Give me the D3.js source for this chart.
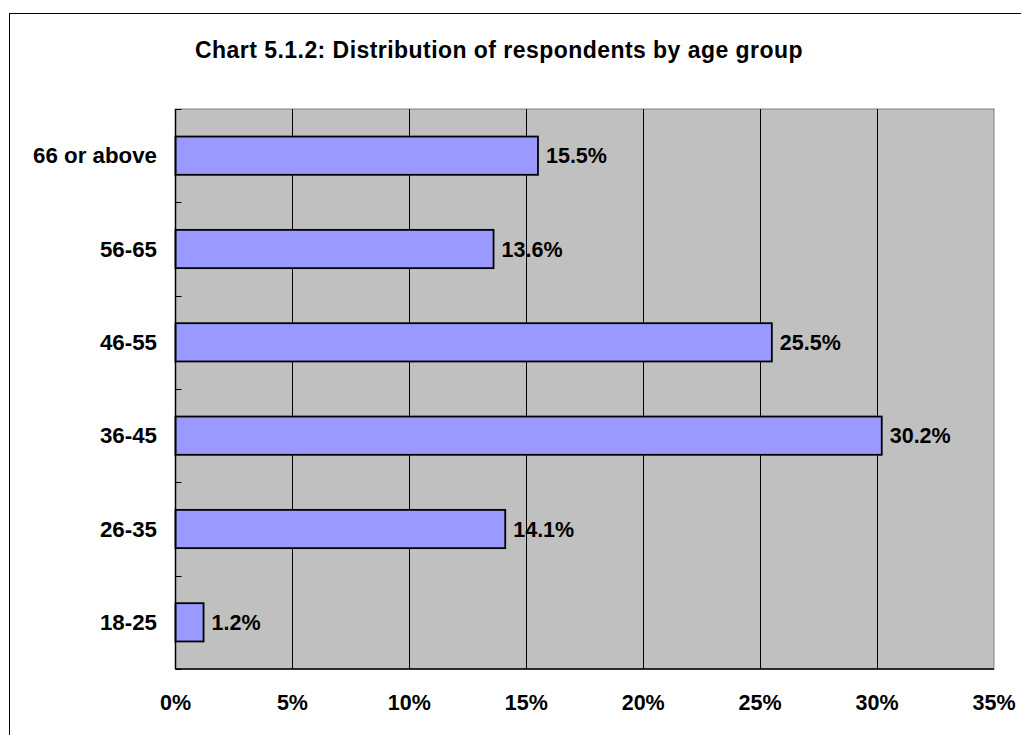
<!DOCTYPE html>
<html>
<head>
<meta charset="utf-8">
<script src="https://cdn.jsdelivr.net/npm/d3@7"></script>
<style>
html,body{margin:0;padding:0;background:#fff;}
svg{display:block;font-family:"Liberation Sans",Arial,sans-serif;font-weight:bold;}
</style>
</head>
<body>
<svg id="chart" width="1021" height="735"></svg>
<script>
const title = "Chart 5.1.2: Distribution of respondents by age group";
const categories = ["66 or above", "56-65", "46-55", "36-45", "26-35", "18-25"];
const values = [15.5, 13.6, 25.5, 30.2, 14.1, 1.2];
const xTicks = [0, 5, 10, 15, 20, 25, 30, 35];

const svg = d3.select("#chart");
const plot = {left: 175.5, right: 994, top: 109, bottom: 669};

// outer frame
svg.append("rect").attr("x", 9.5).attr("y", 13.5).attr("width", 1030).attr("height", 740)
  .attr("fill", "#fff").attr("stroke", "#000").attr("stroke-width", 1);

svg.append("text").attr("x", 499).attr("y", 58).attr("text-anchor", "middle")
  .attr("font-size", 23).attr("letter-spacing", 0.45).text(title);

const x = d3.scaleLinear().domain([0, 35]).range([plot.left, plot.right]);
const y = d3.scaleBand().domain(categories).range([plot.top, plot.bottom]).padding(0);

// plot background
svg.append("rect").attr("x", plot.left).attr("y", plot.top)
  .attr("width", plot.right - plot.left).attr("height", plot.bottom - plot.top)
  .attr("fill", "#C0C0C0").attr("stroke", "#808080").attr("stroke-width", 1);

// gridlines
svg.append("g").selectAll("line").data(xTicks.filter(d => d > 0 && d < 35)).join("line")
  .attr("x1", d => Math.round(x(d)) + 0.5).attr("x2", d => Math.round(x(d)) + 0.5)
  .attr("y1", plot.top).attr("y2", plot.bottom)
  .attr("stroke", "#000").attr("stroke-width", 1);

// bars
const barH = y.bandwidth() * 0.41;
svg.append("g").selectAll("rect").data(values).join("rect")
  .attr("x", plot.left)
  .attr("y", (d, i) => y(categories[i]) + (y.bandwidth() - barH) / 2)
  .attr("width", d => x(d) - x(0))
  .attr("height", barH)
  .attr("fill", "#9999FF").attr("stroke", "#000").attr("stroke-width", 1.8);

// value labels
svg.append("g").selectAll("text").data(values).join("text")
  .attr("x", d => x(d) + 8)
  .attr("y", (d, i) => y(categories[i]) + y.bandwidth() / 2 + 7.5)
  .attr("font-size", 21.5)
  .text(d => d.toFixed(1) + "%");

// y axis
const yAxisG = svg.append("g");
yAxisG.append("line").attr("x1", plot.left).attr("x2", plot.left)
  .attr("y1", plot.top).attr("y2", plot.bottom).attr("stroke", "#000").attr("stroke-width", 1.5);
const bounds = categories.map(c => y(c)).concat([plot.bottom]);
yAxisG.selectAll("line.tick").data(bounds).join("line").attr("class", "tick")
  .attr("x1", plot.left).attr("x2", plot.left + 6)
  .attr("y1", d => Math.round(d) + 0.5).attr("y2", d => Math.round(d) + 0.5)
  .attr("stroke", "#000").attr("stroke-width", 1);
yAxisG.selectAll("text").data(categories).join("text")
  .attr("x", 157).attr("y", d => y(d) + y.bandwidth() / 2 + 7.5)
  .attr("text-anchor", "end").attr("font-size", 22.3).text(d => d);

// x axis
const xAxisG = svg.append("g");
xAxisG.append("line").attr("x1", plot.left).attr("x2", plot.right)
  .attr("y1", plot.bottom).attr("y2", plot.bottom).attr("stroke", "#000").attr("stroke-width", 1.5);
xAxisG.selectAll("text").data(xTicks).join("text")
  .attr("x", d => x(d)).attr("y", 710).attr("text-anchor", "middle")
  .attr("font-size", 21.5).text(d => d + "%");
</script>
</body>
</html>
